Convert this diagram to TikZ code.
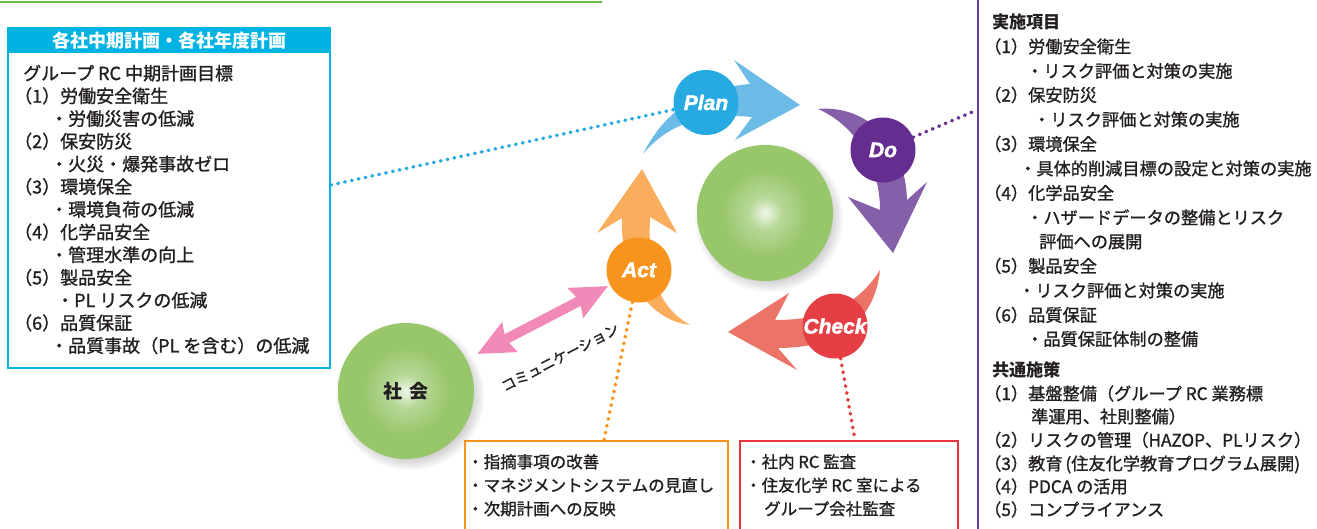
\documentclass[tikz,border=0pt]{standalone}
\usepackage{fontspec}
\setmainfont{Noto Sans CJK JP}[UprightFeatures={FakeBold=1.2}]
\newfontfamily\pdcafont{Liberation Sans}[BoldItalicFeatures={FakeBold=2}]
\usetikzlibrary{arrows.meta}
\definecolor{ink}{HTML}{231F20}
\definecolor{rcblue}{HTML}{00B3E3}
\definecolor{plancol}{HTML}{27AAE1}
\definecolor{planarrow}{HTML}{6CBCE7}
\definecolor{docol}{HTML}{662D91}
\definecolor{doarrow}{HTML}{8560A8}
\definecolor{checkcol}{HTML}{E53E45}
\definecolor{checkarrow}{HTML}{EC7367}
\definecolor{actcol}{HTML}{F7941E}
\definecolor{actarrow}{HTML}{F9AD5D}
\definecolor{ballgreen}{HTML}{98C66B}
\definecolor{ballmid}{HTML}{B7D898}
\definecolor{balllight}{HTML}{F0F7E9}
\definecolor{commpink}{HTML}{F18AB8}
\definecolor{topgreen}{HTML}{6ABD45}
\definecolor{checkbox}{HTML}{E8323C}
\definecolor{doline}{HTML}{6B3F99}
\pgfdeclareradialshading{greenball}{\pgfpoint{0bp}{0bp}}{color(0bp)=(balllight); color(6bp)=(ballmid); color(16bp)=(ballgreen); color(25bp)=(ballgreen); color(50bp)=(ballgreen)}
\begin{document}
\begin{tikzpicture}[x=1pt, y=-1pt,
	phase/.style = {circle, minimum size=65pt, inner sep=0pt, text=white,
		font=\pdcafont\bfseries\itshape\fontsize{21}{21}\selectfont},
	sphere/.style = {circle, minimum size=136pt, inner sep=0pt, shade, shading=greenball},
	softshade/.style = {black, opacity=0.03},
	goalline/.style = {anchor=base west, inner sep=0pt, text=ink, font=\fontsize{18}{18}\selectfont},
	itemline/.style = {anchor=base west, inner sep=0pt, text=ink, font=\fontsize{17.2}{17.2}\selectfont},
	memoline/.style = {anchor=base west, inner sep=0pt, text=ink, font=\fontsize{16.5}{16.5}\selectfont},
	linkdots/.style = {line width=3.6pt, line cap=round, dash pattern=on 0.6pt off 6.4pt},
	commarrow/.style = {commpink, line width=10pt,
		{Stealth[length=36pt,width=32pt,inset=4pt]}-{Stealth[length=36pt,width=32pt,inset=4pt]}}]
	\useasboundingbox (0,0) rectangle (1317,528);
	\draw[topgreen, line width=1.5pt] (0,2) -- (602,2);

	% goals of the group
	\draw[rcblue, line width=2pt] (8,28) rectangle (330,368);
	\fill[rcblue] (8,28) rectangle (330,53);
	\node[text=white, font=\bfseries\fontsize{18}{18}\selectfont] (goalhead) at (169,41) {各社中期計画・各社年度計画};
	\foreach \x/\i/\t in {23/0/{グループ RC 中期計画目標}, 14/1/{（1）労働安全衛生}, 50/2/{・労働災害の低減},
		14/3/{（2）保安防災}, 50/4/{・火災・爆発事故ゼロ}, 14/5/{（3）環境保全}, 50/6/{・環境負荷の低減},
		14/7/{（4）化学品安全}, 50/8/{・管理水準の向上}, 14/9/{（5）製品安全}, 56/10/{・PL リスクの低減},
		14/11/{（6）品質保証}, 50/12/{・品質事故（PL を含む）の低減}}
		\node[goalline] (goal\i) at (\x,{80+22.7*\i}) {\t};

	% the cycle
	\foreach \r in {62,64,...,74}
		\fill[softshade] (769,218) circle (\r);
	\node[sphere] (core) at (765,213) {};
	\fill[planarrow] (643,154) .. controls (665,110) and (700,88) .. (750,84) -- (734,60) -- (800,105)
		-- (735,140) -- (752,117) .. controls (705,113) and (670,122) .. (643,154) -- cycle;
	\fill[doarrow] (818,109) .. controls (860,105) and (905,135) .. (907,200) -- (927,182) -- (893,253)
		-- (848,197) -- (880,210) .. controls (880,165) and (855,125) .. (818,109) -- cycle;
	\fill[checkarrow] (880,270) .. controls (875,320) and (840,348) .. (778,348) -- (797,370) -- (728,332)
		-- (789,293) -- (775,320) .. controls (825,320) and (858,305) .. (880,270) -- cycle;
	\fill[actarrow] (690,325) .. controls (655,305) and (648,270) .. (650,217) -- (677,233) -- (642,169)
		-- (597,233) -- (622,218) .. controls (620,280) and (650,320) .. (690,325) -- cycle;
	\node[phase, fill=plancol] (plan) at (706,102.5) {Plan};
	\node[phase, fill=docol] (do) at (883,150) {Do};
	\node[phase, fill=checkcol] (check) at (835,326) {Check};
	\node[phase, fill=actcol] (act) at (639,270) {Act};

	% society
	\foreach \r in {62,64,...,74}
		\fill[softshade] (410,396) circle (\r);
	\node[sphere, text=ink, font=\bfseries\fontsize{19}{19}\selectfont] (society) at (406,391) {社\hspace{7pt}会};
	\draw[commarrow, shorten <=12pt, shorten >=2pt] (society) -- (act)
		node[pos=0.52, sloped, below=30pt, inner sep=0pt, text=ink, font=\fontsize{14.5}{14.5}\selectfont] (commlabel) {コミュニケーション};

	% links
	\coordinate (goalport) at (331,185);
	\coordinate (doport) at (977,110);
	\coordinate (actport) at (604,440);
	\coordinate (checkport) at (855,440);
	\draw[linkdots, plancol] (goalport) -- (plan);
	\draw[linkdots, docol] (do) -- (doport);
	\draw[linkdots, actcol] (act) -- (actport);
	\draw[linkdots, checkcol] (check) -- (checkport);

	% act and check
	\draw[actcol, line width=1.5pt] (465,441) rectangle (728,545);
	\draw[checkbox, line width=1.5pt] (740,441) rectangle (958,545);
	\foreach \x/\y/\t [count=\k] in {467/468/{・指摘事項の改善}, 467/491.5/{・マネジメントシステムの見直し}, 467/515/{・次期計画への反映}}
		\node[memoline] (fix\k) at (\x,\y) {\t};
	\foreach \x/\y/\t [count=\k] in {745/468/{・社内 RC 監査}, 745/491.5/{・住友化学 RC 室による}, 764/515/{グループ会社監査}}
		\node[memoline] (audit\k) at (\x,\y) {\t};

	% do
	\draw[doline, line width=1.5pt] (978,-5) -- (978,535);
	\foreach \x/\y/\t [count=\k] in {992/28.5/{\textbf{実施項目}}, 984/53/{（1）労働安全衛生}, 1026/77.5/{・リスク評価と対策の実施},
		984/101.5/{（2）保安防災}, 1033/126/{・リスク評価と対策の実施}, 984/150.5/{（3）環境保全},
		1019/175/{・具体的削減目標の設定と対策の実施}, 984/199.5/{（4）化学品安全}, 1026/224/{・ハザードデータの整備とリスク},
		1039/248/{評価への展開}, 984/272.5/{（5）製品安全}, 1018/297/{・リスク評価と対策の実施},
		984/321.5/{（6）品質保証}, 1026/345.5/{・品質保証体制の整備}, 992/376.5/{\textbf{共通施策}},
		984/400/{（1）基盤整備（グループ RC 業務標}, 1031/423/{準運用、社則整備）}, 984/446.5/{（2）リスクの管理（HAZOP、PLリスク）},
		984/470/{（3）教育\,(住友化学教育プログラム展開)}, 984/493/{（4）PDCA の活用}, 984/516/{（5）コンプライアンス}}
		\node[itemline] (item\k) at (\x,\y) {\t};
\end{tikzpicture}
\end{document}
